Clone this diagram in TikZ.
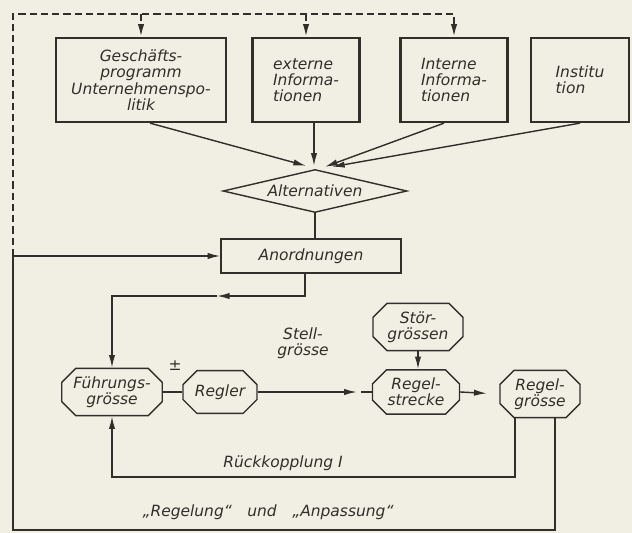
\documentclass[tikz,border=0pt]{standalone}
\usepackage{fontspec}
\setmainfont{DejaVu Sans}
\usetikzlibrary{calc,shapes.geometric,shapes.misc,arrows.meta}
\definecolor{paper}{RGB}{241,238,227}
\definecolor{ink}{RGB}{50,47,43}
\newcommand\lettering{\fontsize{11}{11.6}\selectfont\itshape}
\tikzset{
  topbox/.style={draw=ink,line width=1.6pt,minimum height=2.1cm,font=\lettering,text=ink},
  plainbox/.style={draw=ink,line width=1pt,minimum width=4.5cm,minimum height=0.85cm,font=\lettering,text=ink},
  decision/.style={draw=ink,line width=1pt,diamond,aspect=4.3,inner sep=1pt,minimum width=4.6cm,minimum height=1.075cm,font=\lettering,text=ink},
  octa/.style={draw=ink,line width=1pt,chamfered rectangle,chamfered rectangle xsep=0.22cm,inner sep=2pt,minimum height=1.07cm,align=center,font=\lettering,text=ink},
  stream/.style={draw=ink,line width=1pt,-{Latex[length=9pt,width=4.5pt]}},
  dashstream/.style={stream,line width=1.3pt,dash pattern=on 5pt off 3pt},
  note/.style={font=\lettering,text=ink,align=center}
}

\begin{document}
\begin{tikzpicture}[x=0.025cm,y=-0.025cm]
      \fill[paper] (0,0) rectangle (632,533);
      \useasboundingbox (0,0) rectangle (632,533);
      % obere Reihe
      \node[topbox,minimum width=4.25cm,align=center] (prog) at (141,80) {Geschäfts-\\programm\\Unternehmenspo-\\litik};
      \node[topbox,minimum width=2.675cm,align=left] (extinf) at (306,80) {externe\\Informa-\\tionen};
      \node[topbox,minimum width=2.675cm,align=left] (intinf) at (454,80) {Interne\\Informa-\\tionen};
      \node[topbox,minimum width=2.45cm,align=left] (inst) at (580,80) {Institu\\tion};
      % Entscheidung
      \node[decision] (alt) at (315,191) {Alternativen};
      \node[plainbox] (anord) at (311,256) {Anordnungen};
      % Regelkreis
      \node[octa,minimum width=2.5cm] (fuehr) at (112,392) {Führungs-\\grösse};
      \node[octa,minimum width=1.85cm] (regler) at (220,392) {Regler};
      \node[octa,minimum width=2.175cm] (rstrecke) at (416,392) {Regel-\\strecke};
      \node[octa,minimum width=2.25cm,minimum height=1.125cm] (stoer) at (418,327) {Stör-\\grössen};
      \node[octa,minimum width=2cm] (rgross) at (540,394) {Regel-\\grösse};
      \coordinate (lt) at (13,14);
      \coordinate (lm) at (13,256);
      \coordinate (lb) at (13,530);
      \coordinate (rb) at (555,530);
      \coordinate (knick) at (217,296);
      \coordinate (rueck) at (112,477);
      % Anpassung
      \draw[stream,-] ($(rgross.south)+(15,0)$) -- (rb) -- (lb) -- (lm);
      \draw[stream] (lm) -- (anord.west);
      \draw[dashstream] (lm) -- (lt) -| (intinf.north);
      \draw[dashstream] (prog.north |- lt) -- (prog.north);
      \draw[dashstream] (extinf.north |- lt) -- (extinf.north);
      \draw[stream] ($(prog.south)+(9,0)$) -- ($(alt.north)+(-9,-3)$);
      \draw[stream] ($(extinf.south)+(8,0)$) -- ($(alt.north)+(-1,-3)$);
      \draw[stream] ($(intinf.south)+(-10,0)$) -- ($(alt.north)+(10,-2)$);
      \draw[stream] (inst.south) -- ($(alt.north)+(17,-2)$);
      \draw[stream,-] (alt.south) -- (alt.south |- anord.north);
      \draw[stream] ($(anord.south)+(-6,0)$) |- (knick);
      \draw[stream] (knick) -| (fuehr.north);
      \node[note] (stell) at (303,343) {Stell-\\grösse};
      % Regelung
      \draw[stream,-] (fuehr.east) -- (regler.west);
      \node[note] (pm) at (175,366) {±};
      \draw[stream] (regler.east) -- ($(rstrecke.west)+(-15,0)$);
      \draw[stream,-] ($(rstrecke.west)+(-11,0)$) -- (rstrecke.west);
      \draw[stream] (stoer.south) -- (stoer.south |- rstrecke.north);
      \draw[stream,shorten >=9pt] (rstrecke.east) -- (rgross.west);
      \draw[stream] ($(rgross.south)+(-25,0)$) |- (rueck) -- (fuehr.south);
      \node[note] (rk) at (283,463) {Rückkopplung I};
      \node[note] (capt) at (268,512) {„Regelung“\quad und\quad „Anpassung“};
    \end{tikzpicture}
\end{document}
